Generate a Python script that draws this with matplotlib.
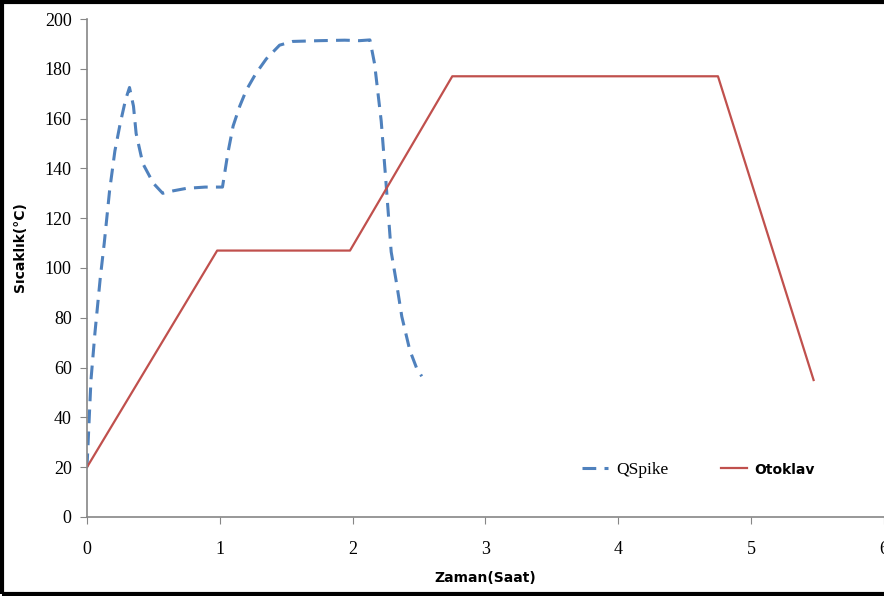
import numpy as np
import matplotlib.pyplot as plt
from matplotlib.patches import Rectangle

# QSpike cycle
qspike_t = [0.0, 0.03, 0.06, 0.10, 0.13, 0.17, 0.21, 0.25, 0.29, 0.32, 0.35, 0.37,
            0.42, 0.50, 0.57, 0.65, 0.75, 0.89, 1.02, 1.06, 1.10, 1.15, 1.20,
            1.27, 1.35, 1.45, 1.55, 1.75, 1.94, 2.05, 2.13, 2.165, 2.215,
            2.25, 2.29, 2.33, 2.37, 2.43, 2.48, 2.52]
qspike_T = [20, 55, 74, 96, 110, 131, 147, 158, 167.5, 172.5, 165, 154,
            142, 134, 130, 131, 132, 132.5, 132.5, 146, 157, 165, 171.5,
            178, 184, 189.5, 191, 191.3, 191.5, 191.3, 191.6, 182, 159,
            135, 106.5, 94, 80.5, 67, 60, 56.5]

# Otoklav cycle
otoklav_t = [0.0, 0.98, 1.98, 2.75, 4.75, 5.47]
otoklav_T = [20, 107, 107, 177, 177, 55]

fig = plt.figure(figsize=(8.84, 5.96), dpi=100)
ax = fig.add_axes([0.0984, 0.1326, 0.9016, 0.8355])

ax.plot(qspike_t, qspike_T, color='#4f81bd', lw=2.2, dashes=(4.5, 2.7), label='QSpike')
ax.plot(otoklav_t, otoklav_T, color='#c0504d', lw=1.6, label='Otoklav')

ax.set_xlim(0, 6)
ax.set_ylim(0, 200)
ax.set_xticks(range(7))
ax.set_yticks(range(0, 201, 20))

for s in ['top', 'right']:
    ax.spines[s].set_visible(False)
for s in ['left', 'bottom']:
    ax.spines[s].set_color('#868686')
    ax.spines[s].set_linewidth(1.2)
ax.tick_params(axis='x', direction='out', length=5, color='#868686', pad=12,
               labelsize=13)
ax.tick_params(axis='y', direction='out', length=5, color='#868686', pad=6,
               labelsize=13)
for lab in ax.get_xticklabels() + ax.get_yticklabels():
    lab.set_family('Liberation Serif')

ax.set_xlabel('Zaman(Saat)', fontsize=10, fontweight='bold', family='DejaVu Sans',
              labelpad=10)
fig.text(0.023, 0.585, 'Sıcaklık(°C)', rotation=90, fontsize=10, fontweight='bold',
         family='DejaVu Sans', ha='center', va='center')

leg = ax.legend(loc='center left', bbox_to_anchor=(0.602, 0.095), ncol=2, frameon=False,
                handlelength=1.5, handletextpad=0.45, columnspacing=3.0,
                prop={'size': 12.5})
texts = leg.get_texts()
texts[0].set_family('Liberation Serif')
texts[1].set_family('DejaVu Sans')
texts[1].set_fontweight('bold')
texts[1].set_fontsize(10)

fig.patches.append(Rectangle((0.002, 0.003), 1.1, 0.994, transform=fig.transFigure,
                             fill=False, edgecolor='black', lw=3, clip_on=False))

fig.savefig('out.png', dpi=100)
